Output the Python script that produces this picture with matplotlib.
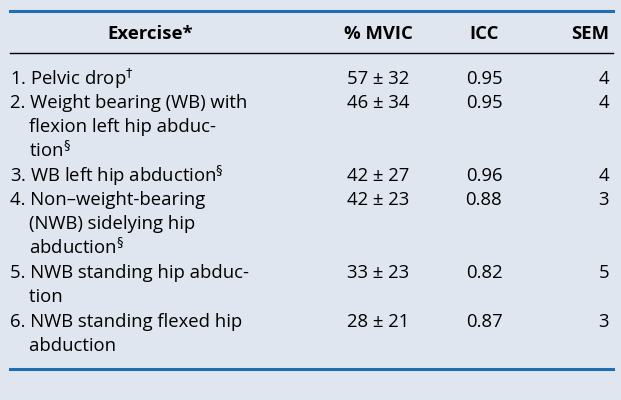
import matplotlib
matplotlib.use("Agg")
import matplotlib.pyplot as plt

exercises = [
    ["1. Pelvic drop$^{\u2020}$"],
    ["2. Weight bearing (WB) with", "    flexion left hip abduc-", "    tion$^{\u00a7}$"],
    ["3. WB left hip abduction$^{\u00a7}$"],
    ["4. Non\u2013weight-bearing", "    (NWB) sidelying hip", "    abduction$^{\u00a7}$"],
    ["5. NWB standing hip abduc-", "    tion"],
    ["6. NWB standing flexed hip", "    abduction"],
]
mvic_mean = [57, 46, 42, 42, 33, 28]
mvic_sd = [32, 34, 27, 23, 23, 21]
icc = [0.95, 0.95, 0.96, 0.88, 0.82, 0.87]
sem = [4, 4, 4, 3, 5, 3]
headers = ["Exercise*", "% MVIC", "ICC", "SEM"]

W, H = 621, 400
fig = plt.figure(figsize=(W/100, H/100), dpi=100)
fig.patch.set_facecolor("#dfe6f0")
plt.rcParams['font.family'] = ['Open Sans', 'DejaVu Sans']
plt.rcParams['mathtext.fontset'] = 'dejavusans'

def fx(x): return x / W
def fy(y): return 1 - y / H

def hline(y, color, lw):
    fig.add_artist(plt.Line2D([fx(10), fx(613)], [fy(y), fy(y)], color=color, lw=lw))

hline(11, "#1f6fb0", 2.2)
hline(53, "black", 1.0)
hline(369, "#1f6fb0", 2.2)

fs = 13.3
hx = [150, 378, 484, 609]
has = ["center", "center", "center", "right"]
for t, x, ha in zip(headers, hx, has):
    fig.text(fx(x), fy(34), t, ha=ha, va="center", fontsize=fs, fontweight="bold")

y = 79
step = 24
for i, lines in enumerate(exercises):
    for j, l in enumerate(lines):
        fig.text(fx(10), fy(y + j*step), l, ha="left", va="center", fontsize=fs)
    fig.text(fx(378), fy(y), f"{mvic_mean[i]} \u00b1 {mvic_sd[i]}", ha="center", va="center", fontsize=fs)
    fig.text(fx(484), fy(y), f"{icc[i]:.2f}", ha="center", va="center", fontsize=fs)
    fig.text(fx(609), fy(y), f"{sem[i]}", ha="right", va="center", fontsize=fs)
    y += step * len(lines) + (1 if len(lines) > 1 else 0)

fig.savefig("out.png", dpi=100, facecolor=fig.get_facecolor())
